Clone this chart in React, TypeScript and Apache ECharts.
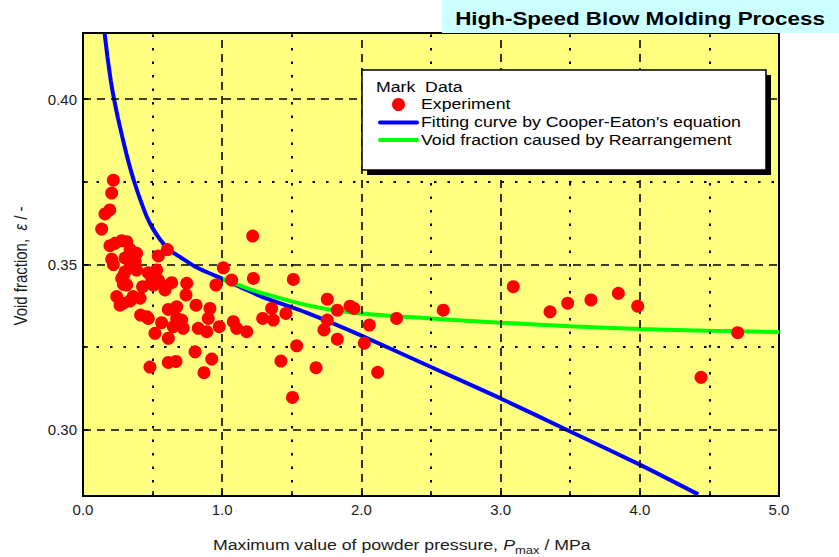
import React, { useEffect, useRef } from "react";
import * as echarts from "echarts";

// Experimental points (Pmax [MPa], void fraction)
const EXP_X = [
  0.218, 0.206, 0.192, 0.158, 0.134, 0.194, 0.23, 0.278, 0.314, 0.338, 0.385, 0.206, 0.218, 0.302, 0.374,
  0.338, 0.541, 0.606, 0.302, 0.385, 0.469, 0.529, 0.29, 0.278, 0.314, 0.29, 0.428, 0.493, 0.505, 0.553,
  0.541, 0.637, 0.589, 0.242, 0.266, 0.29, 0.338, 0.361, 0.41, 0.414, 0.457, 0.469, 0.613, 0.673, 0.673,
  0.709, 0.565, 0.517, 0.613, 0.649, 0.72, 0.828, 0.889, 0.979, 1.08, 1.104, 1.176, 0.481, 0.613, 0.668,
  0.805, 0.925, 0.869, 0.745, 0.74, 0.812, 0.912, 0.9, 0.955, 1.008, 1.068, 1.219, 1.224, 1.511, 1.291,
  1.355, 1.367, 1.458, 1.755, 1.827, 1.755, 1.731, 1.827, 1.918, 1.947, 2.057, 2.021, 2.253, 2.117, 1.535,
  1.422, 1.674, 1.505, 2.588, 3.091, 3.355, 3.482, 3.649, 3.846, 3.985, 4.44, 4.703,
];
const EXP_Y = [
  0.3755, 0.3716, 0.3665, 0.3653, 0.3607, 0.3557, 0.3564, 0.3572, 0.3569, 0.3546, 0.3534, 0.3516, 0.35, 0.352, 0.3508,
  0.3505, 0.3526, 0.3545, 0.3478, 0.3483, 0.3475, 0.3483, 0.3465, 0.3458, 0.3438, 0.344, 0.3433, 0.3448, 0.3438, 0.3443,
  0.3453, 0.3445, 0.3423, 0.3403, 0.3377, 0.3383, 0.339, 0.3403, 0.3398, 0.3347, 0.3342, 0.3337, 0.3364, 0.3372, 0.3337,
  0.3332, 0.3324, 0.3292, 0.3277, 0.3312, 0.3307, 0.3307, 0.3297, 0.3312, 0.3327, 0.3307, 0.3297, 0.319, 0.3204, 0.3207,
  0.3236, 0.3214, 0.3173, 0.3443, 0.3408, 0.3377, 0.3367, 0.3337, 0.3438, 0.349, 0.3453, 0.3586, 0.3458, 0.3455, 0.3337,
  0.3367, 0.3332, 0.3352, 0.3395, 0.3362, 0.3332, 0.3302, 0.3274, 0.3374, 0.3367, 0.3317, 0.3262, 0.3337, 0.3174, 0.3254,
  0.3208, 0.3188, 0.3098, 0.3362, 0.3433, 0.3357, 0.3383, 0.3393, 0.3413, 0.3374, 0.3159, 0.3294,
];

// Fitting curve by Cooper-Eaton's equation
const FIT_X = [
  0.155, 0.175, 0.2, 0.223, 0.25, 0.28, 0.31, 0.34, 0.37, 0.4, 0.43, 0.46, 0.5, 0.55, 0.6, 0.65, 0.7, 0.8, 0.9,
  1.0, 1.15, 1.3, 1.6, 2.0, 2.5, 3.0, 3.5, 4.0, 4.42,
];
const FIT_Y = [
  0.42, 0.413, 0.4055, 0.4, 0.3945, 0.389, 0.3838, 0.379, 0.3748, 0.371, 0.3675, 0.3643, 0.361, 0.3578, 0.3553,
  0.3535, 0.3522, 0.3495, 0.3475, 0.3457, 0.3428, 0.34, 0.3355, 0.3285, 0.319, 0.3095, 0.2995, 0.2895, 0.2805,
];

// Void fraction caused by rearrangement
const REAR_X = [1.0, 1.2, 1.4, 1.6, 1.8, 2.0, 2.5, 3.0, 3.5, 4.0, 4.5, 5.0];
const REAR_Y = [0.3457, 0.3425, 0.34, 0.3378, 0.3362, 0.3352, 0.3337, 0.3324, 0.3313, 0.3305, 0.33, 0.3296];

const X_LABEL_TICKS = [0, 1, 2, 3, 4, 5];
const Y_LABEL_TICKS = [0.3, 0.35, 0.4];
const Y_MINOR_TICKS = [0.3, 0.325, 0.35, 0.375, 0.4];
const MAJOR_X_GRID = [1, 2, 3, 4];
const MINOR_X_GRID = [0.5, 1.5, 2.5, 3.5, 4.5];
const MAJOR_Y_GRID = [0.3, 0.35, 0.4];
const MINOR_Y_GRID = [0.325, 0.375];

const FONT = "'Liberation Sans', Arial, Helvetica, sans-serif";
const STRETCH = 1.18;

export default function App() {
  const ref = useRef<HTMLDivElement>(null);
  useEffect(() => {
    const chart = echarts.init(ref.current!, null, { renderer: "svg" });
    const dashed = { type: [8, 6] as any, color: "#000", width: 1.6 };
    const dotted = { type: [2.5, 11] as any, color: "#000", width: 2 };
    const gridLines = [
      ...MAJOR_X_GRID.map((v) => ({ xAxis: v, lineStyle: dashed })),
      ...MINOR_X_GRID.map((v) => ({ xAxis: v, lineStyle: dotted })),
      ...MAJOR_Y_GRID.map((v) => ({ yAxis: v, lineStyle: dashed })),
      ...MINOR_Y_GRID.map((v) => ({ yAxis: v, lineStyle: dotted })),
    ];
    const option: any = {
      animation: false,
      backgroundColor: "#ffffff",
      grid: {
        left: 83,
        right: 60,
        top: 33,
        bottom: 61,
        show: true,
        backgroundColor: "#ffff80",
        borderColor: "#000",
        borderWidth: 2,
      },
      xAxis: {
        type: "value",
        min: 0,
        max: 5,
        interval: 1,
        axisLine: { show: true, lineStyle: { color: "#000", width: 2 } },
        axisTick: { show: true, inside: true, length: 5, lineStyle: { color: "#000", width: 1.5 } },
        minorTick: { show: true, splitNumber: 2, length: 5, lineStyle: { color: "#000", width: 1.5 } },
        splitLine: { show: false },
        axisLabel: {
          color: "#1a1a1a",
          fontSize: 15,
          fontFamily: FONT,
          margin: 6,
          customValues: X_LABEL_TICKS,
          formatter: (v: number) => v.toFixed(1),
        },
      },
      yAxis: {
        type: "value",
        min: 0.28,
        max: 0.42,
        interval: 0.005,
        axisLine: { show: true, lineStyle: { color: "#000", width: 2 } },
        axisTick: { show: true, inside: true, length: 5, customValues: Y_MINOR_TICKS, lineStyle: { color: "#000", width: 1.5 } },
        splitLine: { show: false },
        axisLabel: {
          color: "#1a1a1a",
          fontSize: 15,
          fontFamily: FONT,
          margin: 6,
          customValues: Y_LABEL_TICKS,
          formatter: (v: number) => {
            const hit = Y_LABEL_TICKS.find((t) => Math.abs(t - v) < 1e-6);
            return hit !== undefined ? hit.toFixed(2) : "";
          },
        },
      },
      series: [
        {
          type: "line",
          data: [],
          z: 1,
          silent: true,
          markLine: {
            silent: true,
            symbol: ["none", "none"],
            precision: 4,
            label: { show: false },
            emphasis: { disabled: true },
            data: gridLines,
          },
        },
        {
          name: "Fitting curve by Cooper-Eaton's equation",
          type: "line",
          z: 3,
          smooth: 0.2,
          showSymbol: false,
          lineStyle: { color: "#0000ff", width: 4 },
          data: FIT_X.map((x, i) => [x, FIT_Y[i]]),
        },
        {
          name: "Void fraction caused by Rearrangement",
          type: "line",
          z: 4,
          smooth: 0.3,
          showSymbol: false,
          lineStyle: { color: "#00ff00", width: 4 },
          data: REAR_X.map((x, i) => [x, REAR_Y[i]]),
        },
        {
          name: "Experiment",
          type: "scatter",
          z: 5,
          symbol: "circle",
          symbolSize: 13,
          itemStyle: { color: "#ff0000", opacity: 1 },
          data: EXP_X.map((x, i) => [x, EXP_Y[i]]),
        },
      ],
      graphic: [
        // title box
        { type: "rect", z: 100, shape: { x: 442, y: 0, width: 397, height: 33 }, style: { fill: "#ccffff" } },
        {
          type: "text",
          z: 101,
          x: 640,
          y: 18,
          scaleX: STRETCH,
          style: {
            text: "High-Speed Blow Molding Process",
            fill: "#000",
            font: `bold 19px ${FONT}`,
            align: "center",
            verticalAlign: "middle",
          },
        },
        // legend box with shadow
        { type: "rect", z: 100, shape: { x: 367, y: 75, width: 404, height: 100 }, style: { fill: "#000" } },
        { type: "rect", z: 101, shape: { x: 362, y: 70, width: 404, height: 100 }, style: { fill: "#fff", stroke: "#000", lineWidth: 1.5 } },
        {
          type: "text", z: 102, x: 376, y: 87, scaleX: STRETCH,
          style: { text: "Mark  Data", fill: "#000", font: `15px ${FONT}`, verticalAlign: "middle" },
        },
        { type: "circle", z: 102, shape: { cx: 398.5, cy: 104.5, r: 6.5 }, style: { fill: "#ff0000" } },
        {
          type: "text", z: 102, x: 421, y: 104, scaleX: STRETCH,
          style: { text: "Experiment", fill: "#000", font: `15px ${FONT}`, verticalAlign: "middle" },
        },
        { type: "line", z: 102, shape: { x1: 380, y1: 122.5, x2: 417, y2: 122.5 }, style: { stroke: "#0000ff", lineWidth: 4, lineCap: "round" } },
        {
          type: "text", z: 102, x: 421, y: 122, scaleX: STRETCH,
          style: { text: "Fitting curve by Cooper-Eaton's equation", fill: "#000", font: `15px ${FONT}`, verticalAlign: "middle" },
        },
        { type: "line", z: 102, shape: { x1: 380, y1: 140, x2: 417, y2: 140 }, style: { stroke: "#00ff00", lineWidth: 4, lineCap: "round" } },
        {
          type: "text", z: 102, x: 421, y: 140, scaleX: STRETCH,
          style: { text: "Void fraction caused by Rearrangement", fill: "#000", font: `15px ${FONT}`, verticalAlign: "middle" },
        },
        // axis names
        {
          type: "text",
          z: 102,
          x: 21,
          y: 266,
          rotation: Math.PI / 2,
          scaleY: STRETCH,
          style: {
            text: "{a|Void fraction,  }{e|ε}{a| / -}",
            align: "center",
            verticalAlign: "middle",
            rich: {
              a: { fontSize: 15, fontFamily: FONT, fill: "#1a1a1a", lineHeight: 20 },
              e: { fontSize: 15, fontFamily: FONT, fontStyle: "italic", fill: "#1a1a1a", lineHeight: 20 },
            },
          },
        },
        {
          type: "text",
          z: 102,
          x: 213,
          y: 545,
          scaleX: STRETCH,
          style: {
            text: "{a|Maximum value of powder pressure, }{p|P}{s|max}{a| / MPa}",
            align: "left",
            verticalAlign: "middle",
            rich: {
              a: { fontSize: 15, fontFamily: FONT, fill: "#1a1a1a", lineHeight: 22, verticalAlign: "middle" },
              p: { fontSize: 15, fontFamily: FONT, fontStyle: "italic", fill: "#1a1a1a", lineHeight: 22, verticalAlign: "middle" },
              s: { fontSize: 11, fontFamily: FONT, fill: "#1a1a1a", lineHeight: 12, verticalAlign: "bottom" },
            },
          },
        },
      ],
    };
    chart.setOption(option);
    return () => chart.dispose();
  }, []);
  return <div ref={ref} style={{ position: "absolute", left: 0, top: 0, width: 839, height: 557 }} />;
}
